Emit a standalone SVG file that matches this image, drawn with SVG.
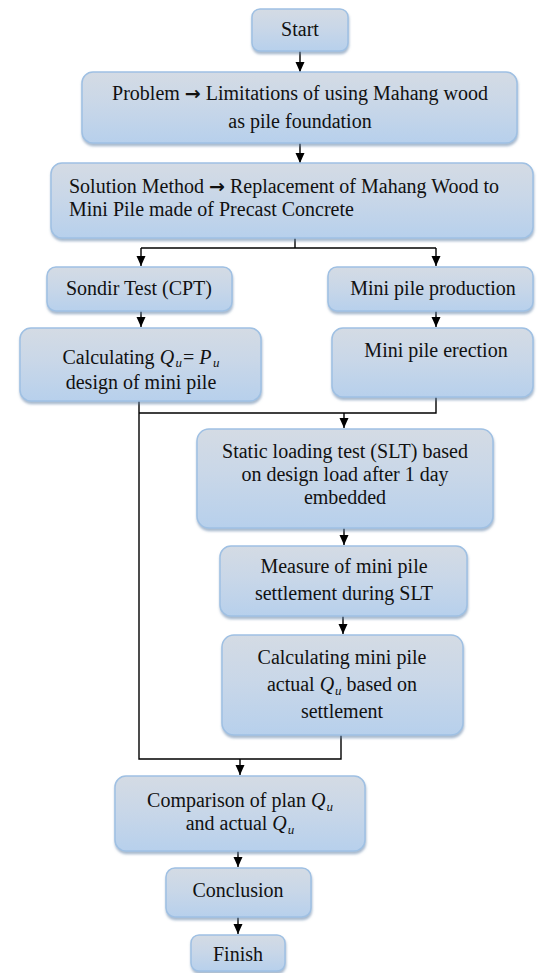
<svg xmlns="http://www.w3.org/2000/svg" width="538" height="973" viewBox="0 0 538 973">
<style>
.box{fill:url(#g);stroke:#9fc0e3;stroke-width:1.5;filter:url(#sh)}
.t{font-family:"Liberation Serif","Times New Roman",serif;font-size:20px;fill:#111}
.c{text-anchor:middle}
.i{font-style:italic}
.sub{font-style:italic;font-size:13px}
.arw{font-family:"DejaVu Sans",sans-serif;font-weight:bold;font-size:19px}
.ln{fill:none;stroke:#000;stroke-width:1.4}
.ar{fill:none;stroke:#000;stroke-width:1.4;marker-end:url(#ah)}
</style>
<defs>
<linearGradient id="g" x1="0" y1="0" x2="0" y2="1">
<stop offset="0" stop-color="#d4dbe4"/>
<stop offset="0.45" stop-color="#c9d7e8"/>
<stop offset="1" stop-color="#b7d0ec"/>
</linearGradient>
<filter id="sh" x="-10%" y="-10%" width="120%" height="130%">
<feDropShadow dx="0.5" dy="2.5" stdDeviation="1.3" flood-color="#5f7fa5" flood-opacity="0.55"/>
</filter>
<marker id="ah" viewBox="0 0 10 10" refX="10" refY="5" markerWidth="10" markerHeight="10" markerUnits="userSpaceOnUse" orient="auto">
<path d="M0,0.5 L10,5 L0,9.5 z" fill="#000"/>
</marker>
</defs>
<rect width="538" height="973" fill="#fff"/>
<g id="connectors">
<line class="ar" x1="300" y1="51" x2="300" y2="72"/>
<line class="ar" x1="300" y1="143" x2="300" y2="163"/>
<polyline class="ln" points="295,238 295,248"/>
<polyline class="ln" points="141,248 436,248"/>
<line class="ar" x1="141" y1="248" x2="141" y2="266"/>
<line class="ar" x1="436" y1="248" x2="436" y2="266"/>
<line class="ar" x1="141" y1="311" x2="141" y2="327"/>
<line class="ar" x1="436" y1="311" x2="436" y2="327"/>
<polyline class="ln" points="139,401 139,759 341,759 341,735"/>
<polyline class="ln" points="139,413 436,413 436,397"/>
<line class="ar" x1="344" y1="413" x2="344" y2="428"/>
<line class="ar" x1="344" y1="528" x2="344" y2="545"/>
<line class="ar" x1="343" y1="616" x2="343" y2="634"/>
<line class="ar" x1="240" y1="759" x2="240" y2="775"/>
<line class="ar" x1="238" y1="851" x2="238" y2="867"/>
<line class="ar" x1="238" y1="917" x2="238" y2="934"/>
</g>
<g id="start">
<rect class="box" x="252" y="9" width="96" height="42" rx="8"/>
<text class="t c" x="300" y="36">Start</text>
</g>
<g id="problem">
<rect class="box" x="82" y="72" width="435" height="71" rx="11"/>
<text class="t c" x="300" y="100">Problem <tspan class="arw">→</tspan> Limitations of using Mahang wood</text>
<text class="t c" x="300" y="128">as pile foundation</text>
</g>
<g id="solution">
<rect class="box" x="51" y="163" width="482" height="75" rx="11"/>
<text class="t" x="69" y="193">Solution Method <tspan class="arw">→</tspan> Replacement of Mahang Wood to</text>
<text class="t" x="69" y="216">Mini Pile made of Precast Concrete</text>
</g>
<g id="sondir">
<rect class="box" x="47" y="267" width="185" height="44" rx="9"/>
<text class="t c" x="139" y="295">Sondir Test (CPT)</text>
</g>
<g id="production">
<rect class="box" x="328" y="267" width="205" height="44" rx="9"/>
<text class="t c" x="433" y="295">Mini pile production</text>
</g>
<g id="calc-design">
<rect class="box" x="20" y="328" width="241" height="73" rx="11"/>
<text class="t c" x="141" y="364">Calculating <tspan class="i">Q</tspan><tspan class="sub" dx="1.5" dy="3">u</tspan><tspan dx="1" dy="-3">= </tspan><tspan class="i">P</tspan><tspan class="sub" dx="1.5" dy="3">u</tspan></text>
<text class="t c" x="141" y="389">design of mini pile</text>
</g>
<g id="erection">
<rect class="box" x="332" y="328" width="201" height="69" rx="11"/>
<text class="t c" x="436" y="357">Mini pile erection</text>
</g>
<g id="slt">
<rect class="box" x="197" y="429" width="296" height="99" rx="12"/>
<text class="t c" x="345" y="458">Static loading test (SLT) based</text>
<text class="t c" x="345" y="481">on design load after 1 day</text>
<text class="t c" x="345" y="504">embedded</text>
</g>
<g id="measure">
<rect class="box" x="220" y="546" width="247" height="70" rx="11"/>
<text class="t c" x="344" y="573">Measure of mini pile</text>
<text class="t c" x="344" y="600">settlement during SLT</text>
</g>
<g id="calc-actual">
<rect class="box" x="222" y="635" width="241" height="100" rx="12"/>
<text class="t c" x="342" y="664">Calculating mini pile</text>
<text class="t c" x="342" y="691">actual <tspan class="i">Q</tspan><tspan class="sub" dx="1" dy="4">u</tspan><tspan dy="-4"> based on</tspan></text>
<text class="t c" x="342" y="718">settlement</text>
</g>
<g id="comparison">
<rect class="box" x="115" y="776" width="250" height="75" rx="11"/>
<text class="t c" x="240" y="807">Comparison of plan <tspan class="i">Q</tspan><tspan class="sub" dx="1" dy="4">u</tspan></text>
<text class="t c" x="240" y="830">and actual <tspan class="i">Q</tspan><tspan class="sub" dx="1" dy="4">u</tspan></text>
</g>
<g id="conclusion">
<rect class="box" x="166" y="868" width="145" height="49" rx="9"/>
<text class="t c" x="238" y="897">Conclusion</text>
</g>
<g id="finish">
<rect class="box" x="191" y="935" width="94" height="36" rx="8"/>
<text class="t c" x="238" y="961">Finish</text>
</g>
</svg>
